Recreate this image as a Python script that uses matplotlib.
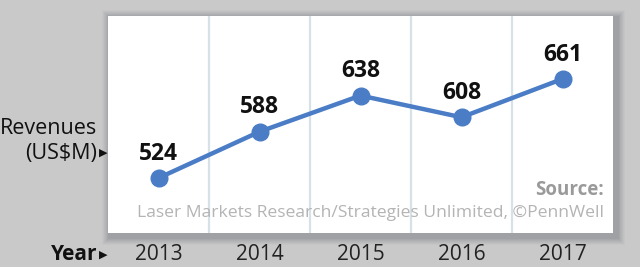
import matplotlib
matplotlib.use("Agg")
from matplotlib import pyplot as plt
from matplotlib.patches import Rectangle

years = ["2013", "2014", "2015", "2016", "2017"]
revenues = [524, 588, 638, 608, 661]

W, H = 640, 267
FONT = "Open Sans"
fig = plt.figure(figsize=(6.4, 2.67), dpi=100, facecolor="#c9c9c9")

# panel in pixel coords
left, right, top, bottom = 108, 613, 16, 233

def fx(px):
    return px / W

def fy(py):
    return 1 - py / H

# soft drop shadow
for i, a in enumerate([0.03, 0.04, 0.05, 0.05, 0.06, 0.07, 0.08]):
    d = 9 - i
    fig.patches.append(Rectangle((fx(left - d + 3), fy(bottom + d + 3)),
                                 fx(right - left + 2 * d), (bottom - top + 2 * d) / H,
                                 transform=fig.transFigure, color="#505860",
                                 alpha=a, lw=0, zorder=0))

ax = fig.add_axes([fx(left), fy(bottom), fx(right - left), (bottom - top) / H])
ax.set_zorder(2)
ax.patch.set_facecolor("white")
for s in ax.spines.values():
    s.set_visible(False)
ax.set_xticks([])
ax.set_yticks([])

x = list(range(len(years)))
ax.set_xlim(-0.5, len(years) - 0.5)
ax.set_ylim(448, 748)

for i in range(1, len(years)):
    ax.axvline(i - 0.5, color="#d6e2e6", lw=1.6, zorder=1)

ax.plot(x, revenues, color="#4a7dc6", lw=3.2, marker="o", markersize=12,
        zorder=3, solid_capstyle="round")

for xi, v in zip(x, revenues):
    ax.annotate(str(v), (xi, v), xytext=(0, 17.5), textcoords="offset points",
                ha="center", va="center", fontsize=16.5, fontweight="bold",
                family=FONT, color="#111111")

ax.text(0.982, 0.2, "Source:", transform=ax.transAxes, ha="right", va="center",
        fontsize=13.5, fontweight="bold", family=FONT, color="#9a9a9a")
ax.text(0.982, 0.09, "Laser Markets Research/Strategies Unlimited, \u00a9PennWell",
        transform=ax.transAxes, ha="right", va="center", fontsize=12.6,
        family=FONT, color="#b4b4b4")

# year labels below the panel
for xi, y in zip(x, years):
    px = left + (xi + 0.5) * (right - left) / len(years)
    fig.text(fx(px), fy(255), y, ha="center", va="center", fontsize=15,
             family=FONT, color="#222222")

fig.text(fx(97), fy(255), "Year", ha="right", va="center", fontsize=15,
         fontweight="bold", family=FONT, color="#111111")
fig.text(fx(99), fy(255), "\u25b6", ha="left", va="center", fontsize=8,
         family="DejaVu Sans", color="#111111")

fig.text(fx(97), fy(128), "Revenues", ha="right", va="center", fontsize=15.5,
         family=FONT, color="#111111")
fig.text(fx(97), fy(153), "(US$M)", ha="right", va="center", fontsize=15.5,
         family=FONT, color="#111111")
fig.text(fx(99), fy(153), "\u25b6", ha="left", va="center", fontsize=8,
         family="DejaVu Sans", color="#111111")

fig.savefig("out.png", dpi=100, facecolor=fig.get_facecolor())
